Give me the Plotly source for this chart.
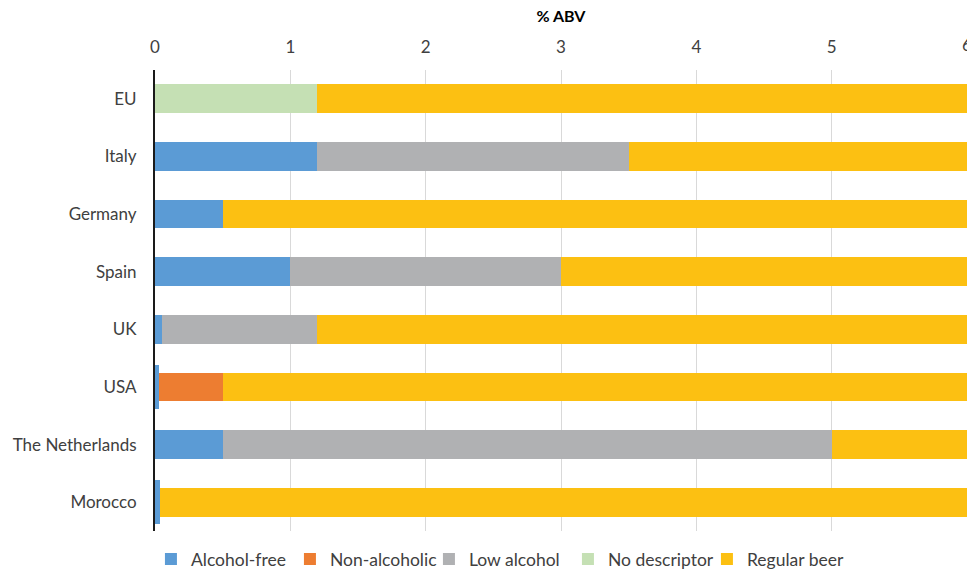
import plotly.graph_objects as go

countries = ["EU", "Italy", "Germany", "Spain", "UK", "USA", "The Netherlands", "Morocco"]
alcohol_free = [0, 1.2, 0.5, 1.0, 0.05, 0.03, 0.5, 0.04]
non_alcoholic = [0, 0, 0, 0, 0, 0.47, 0, 0]
low_alcohol = [0, 2.3, 0, 2.0, 1.15, 0, 4.5, 0]
no_descriptor = [1.2, 0, 0, 0, 0, 0, 0, 0]
regular_beer = [4.8, 2.5, 5.5, 3.0, 4.8, 5.5, 1.0, 5.96]
x_ticks = [0, 1, 2, 3, 4, 5, 6]

series = [
    ("Alcohol-free", alcohol_free, "#5B9BD5"),
    ("Non-alcoholic", non_alcoholic, "#ED7D31"),
    ("Low alcohol", low_alcohol, "#B0B1B3"),
    ("No descriptor", no_descriptor, "#C5E0B4"),
    ("Regular beer", regular_beer, "#FCC012"),
]

fig = go.Figure()
for name, vals, col in series:
    w = 0.5
    if name == "Alcohol-free":
        w = [0.77 if c in ("USA", "Morocco") else 0.5 for c in countries]
    fig.add_trace(go.Bar(
        y=countries, x=vals, name=name, orientation="h",
        marker=dict(color=col, line=dict(width=0)),
        width=w,
    ))

# last tick label sits on the page edge (plotly would hide it)
fig.add_annotation(x=x_ticks[-1], y=1, xref="x", yref="paper", text=str(x_ticks[-1]),
                   showarrow=False, yanchor="bottom", yshift=13,
                   font=dict(size=17, color="#404040"))

fig.update_layout(
    barmode="stack",
    width=967, height=569,
    margin=dict(l=155, r=0, t=70, b=38, autoexpand=False),
    plot_bgcolor="white", paper_bgcolor="white",
    font=dict(family="Lato, Open Sans, sans-serif", color="#404040"),
    showlegend=True,
    legend=dict(orientation="h", x=-0.005, y=-0.022, xanchor="left", yanchor="top",
                font=dict(size=17.5, color="#404040"), traceorder="normal",
                entrywidth=94, entrywidthmode="pixels"),
    xaxis=dict(
        side="top", range=[0, 6], tickvals=x_ticks, ticktext=[str(t) for t in x_ticks],
        showgrid=True, gridcolor="#D9D9D9", gridwidth=1,
        zeroline=False, showline=False, ticks="",
        tickfont=dict(size=17, color="#404040"), ticklabelstandoff=13,
        title=dict(text="<b>% ABV</b>", font=dict(size=16, color="#000000"), standoff=8),
    ),
    yaxis=dict(
        autorange="reversed", showline=True, linecolor="#1a1a1a", linewidth=2,
        showgrid=False, ticks="", tickfont=dict(size=17, color="#404040"),
        ticklabelstandoff=13,
    ),
)

fig.write_html(
    "out.html",
    config={"displayModeBar": False},
    post_script="document.body.style.margin='0';document.body.style.overflow='hidden';",
)
